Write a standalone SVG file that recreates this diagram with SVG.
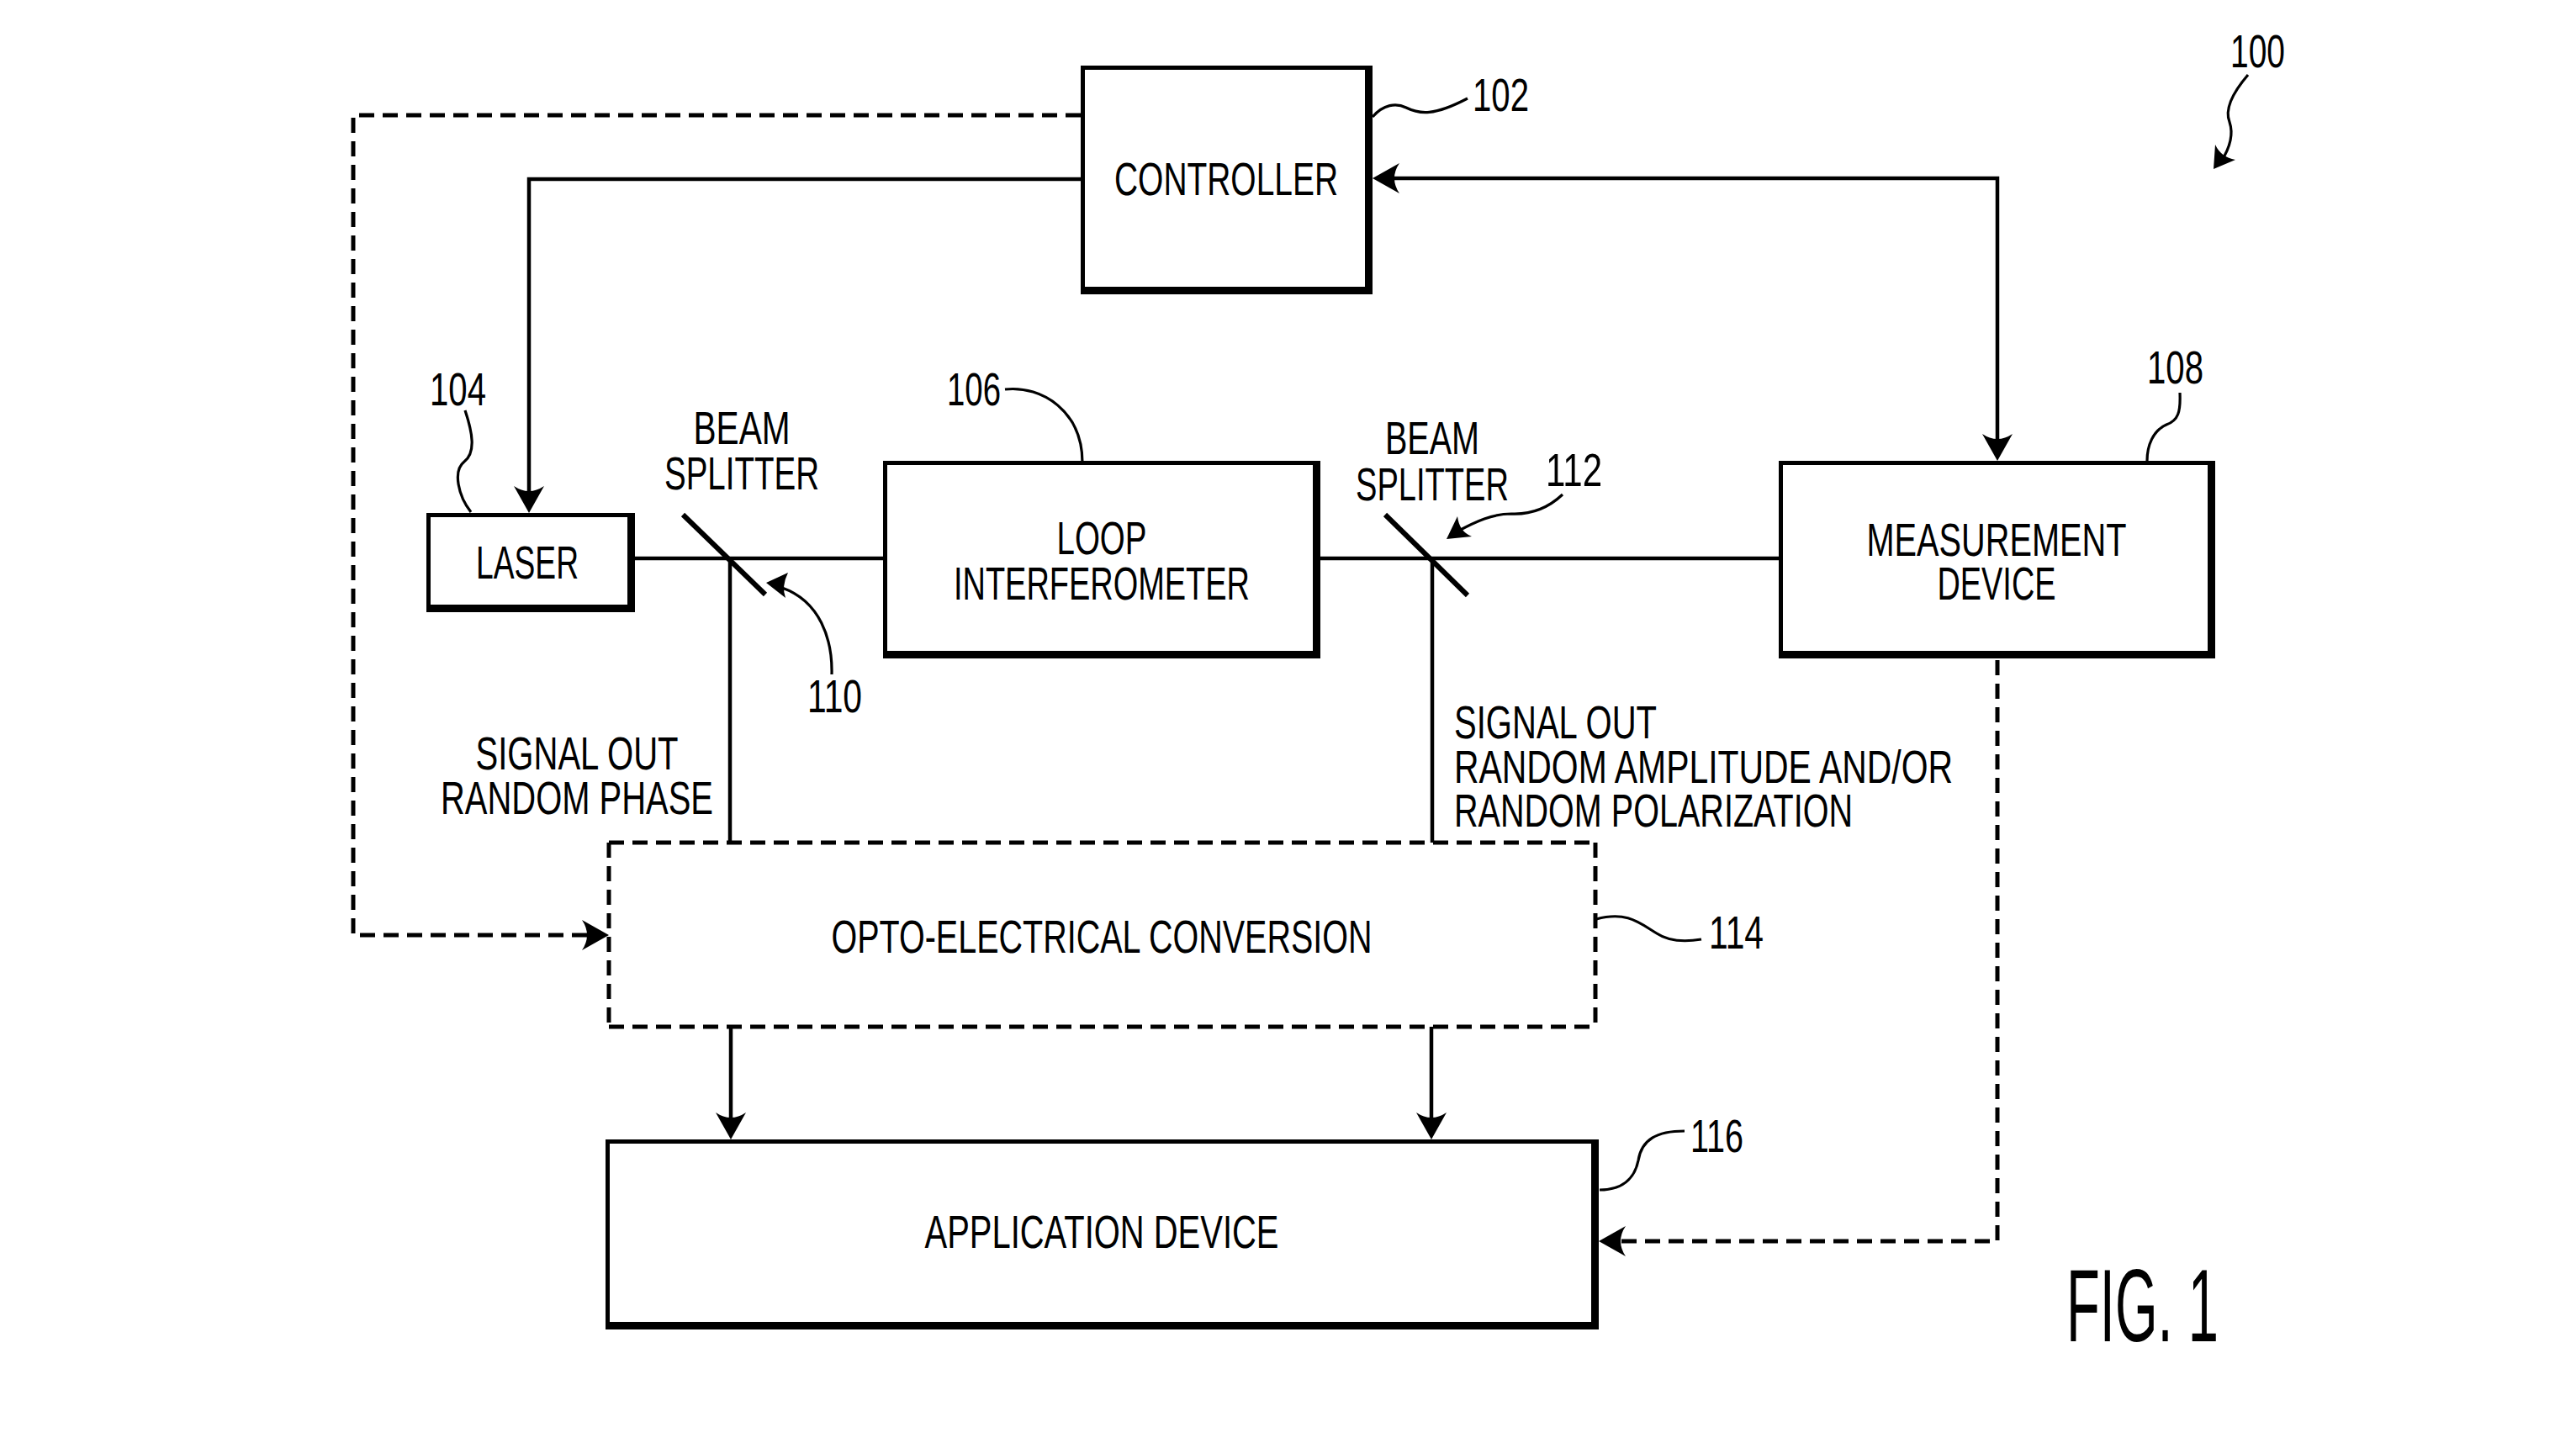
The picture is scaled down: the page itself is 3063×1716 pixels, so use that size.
<svg xmlns="http://www.w3.org/2000/svg" width="3063" height="1716" viewBox="0 0 3063 1716">
<style>
  text { font-family: "Liberation Sans Narrow", "Liberation Sans", Arial, sans-serif; font-size: 56px; fill: #000; }
  .c { text-anchor: middle; }
  .box { fill: #fff; stroke: #000; stroke-width: 5; }
  .shadow { fill: none; stroke: #000; stroke-width: 9; }
  .ln { fill: none; stroke: #000; stroke-width: 4.5; }
  .dash { fill: none; stroke: #000; stroke-width: 5; stroke-dasharray: 18 10; }
  .lead { fill: none; stroke: #000; stroke-width: 3.2; }
  .split { fill: none; stroke: #000; stroke-width: 6; }
  .head { fill: #000; stroke: none; }
</style>
<defs>
  <marker id="ah" markerUnits="userSpaceOnUse" markerWidth="44" markerHeight="44" viewBox="-30 -22 44 44" refX="0" refY="0" orient="auto-start-reverse">
    <path d="M10,0 L-22,-18 Q-10,0 -22,18 Z" fill="#000"/>
  </marker>
</defs>
<rect x="0" y="0" width="3063" height="1716" fill="#fff"/>

<g id="connectors">
  <path class="ln" d="M1285,213 H629 V600" marker-end="url(#ah)"/>
  <path class="ln" d="M1642,212 H2375 V538" marker-start="url(#ah)" marker-end="url(#ah)"/>
  <path class="dash" d="M1285,137 H420 V1112 H714" marker-end="url(#ah)"/>
  <path class="ln" d="M755,664 H1050"/>
  <path class="ln" d="M868,664 V1002"/>
  <path class="ln" d="M1570,664 H2115"/>
  <path class="ln" d="M1703,664 V1002"/>
  <path class="ln" d="M869,1221 V1345" marker-end="url(#ah)"/>
  <path class="ln" d="M1702,1221 V1345" marker-end="url(#ah)"/>
  <path class="dash" d="M2375,785 V1476 H1911" marker-end="url(#ah)"/>
</g>

<g id="splitter-110">
  <path class="split" d="M812,612 L910,707"/>
  <text class="c" x="882" y="528" textLength="115" lengthAdjust="spacingAndGlyphs">BEAM</text>
  <text class="c" x="882" y="582" textLength="184" lengthAdjust="spacingAndGlyphs">SPLITTER</text>
  <path class="lead" d="M989,802 C990,760 975,715 930,699"/>
  <path class="head" d="M911,693 L937,681 Q929,697 934,711 Z"/>
  <text x="960" y="847" textLength="65" lengthAdjust="spacingAndGlyphs">110</text>
</g>

<g id="splitter-112">
  <path class="split" d="M1647,612 L1745,708"/>
  <text class="c" x="1703" y="540" textLength="112" lengthAdjust="spacingAndGlyphs">BEAM</text>
  <text class="c" x="1703" y="595" textLength="182" lengthAdjust="spacingAndGlyphs">SPLITTER</text>
  <path class="lead" d="M1858,588 C1840,605 1820,612 1797,611 C1775,611 1755,620 1733,632"/>
  <path class="head" d="M1720,641 L1733,614 Q1735,632 1750,638 Z"/>
  <text x="1838" y="578" textLength="67" lengthAdjust="spacingAndGlyphs">112</text>
</g>

<g id="controller">
  <rect class="box" x="1287.5" y="80.5" width="342" height="267"/>
  <path class="shadow" d="M1627.5,78 V345.5 H1285"/>
  <text class="c" x="1458" y="232" textLength="266" lengthAdjust="spacingAndGlyphs">CONTROLLER</text>
  <path class="lead" d="M1632,139 C1645,124 1660,122 1672,128 C1688,136 1705,138 1745,117"/>
  <text x="1751" y="132" textLength="67" lengthAdjust="spacingAndGlyphs">102</text>
</g>

<g id="laser">
  <rect class="box" x="509.5" y="612.5" width="243" height="113"/>
  <path class="shadow" d="M750.5,610 V723.5 H507"/>
  <text class="c" x="627" y="688" textLength="122" lengthAdjust="spacingAndGlyphs">LASER</text>
  <path class="lead" d="M553,488 C562,515 566,538 552,549 C538,560 545,590 560,609"/>
  <text x="511" y="482" textLength="67" lengthAdjust="spacingAndGlyphs">104</text>
</g>

<g id="loop-interferometer">
  <rect class="box" x="1052.5" y="550.5" width="515" height="230"/>
  <path class="shadow" d="M1565.5,548 V778.5 H1050"/>
  <text class="c" x="1310" y="659" textLength="107" lengthAdjust="spacingAndGlyphs">LOOP</text>
  <text class="c" x="1310" y="713" textLength="352" lengthAdjust="spacingAndGlyphs">INTERFEROMETER</text>
  <path class="lead" d="M1195,463 C1240,458 1287,490 1287,550"/>
  <text x="1126" y="482" textLength="64" lengthAdjust="spacingAndGlyphs">106</text>
</g>

<g id="measurement-device">
  <rect class="box" x="2117.5" y="550.5" width="514" height="230"/>
  <path class="shadow" d="M2629.5,548 V778.5 H2115"/>
  <text class="c" x="2374" y="661" textLength="309" lengthAdjust="spacingAndGlyphs">MEASUREMENT</text>
  <text class="c" x="2374" y="713" textLength="141" lengthAdjust="spacingAndGlyphs">DEVICE</text>
  <path class="lead" d="M2592,467 C2593,490 2590,500 2576,505 C2560,512 2553,530 2553,548"/>
  <text x="2553" y="456" textLength="67" lengthAdjust="spacingAndGlyphs">108</text>
</g>

<g id="signal-labels">
  <text class="c" x="686" y="915" textLength="241" lengthAdjust="spacingAndGlyphs">SIGNAL OUT</text>
  <text class="c" x="686" y="968" textLength="324" lengthAdjust="spacingAndGlyphs">RANDOM PHASE</text>
  <text x="1729" y="878" textLength="241" lengthAdjust="spacingAndGlyphs">SIGNAL OUT</text>
  <text x="1729" y="931" textLength="593" lengthAdjust="spacingAndGlyphs">RANDOM AMPLITUDE AND/OR</text>
  <text x="1729" y="983" textLength="474" lengthAdjust="spacingAndGlyphs">RANDOM POLARIZATION</text>
</g>

<g id="opto-electrical-conversion">
  <path class="dash" d="M724,1002 H1897"/>
  <path class="dash" d="M724,1221 H1897"/>
  <path class="dash" d="M724,1002 V1221"/>
  <path class="dash" d="M1897,1002 V1221"/>
  <text class="c" x="1310" y="1133" textLength="643" lengthAdjust="spacingAndGlyphs">OPTO-ELECTRICAL CONVERSION</text>
  <path class="lead" d="M1898,1093 C1935,1083 1950,1098 1970,1110 C1985,1120 2005,1120 2023,1117"/>
  <text x="2032" y="1128" textLength="65" lengthAdjust="spacingAndGlyphs">114</text>
</g>

<g id="application-device">
  <rect class="box" x="722.5" y="1357.5" width="1176" height="221"/>
  <path class="shadow" d="M1896.5,1355 V1576.5 H720"/>
  <text class="c" x="1310" y="1484" textLength="421" lengthAdjust="spacingAndGlyphs">APPLICATION DEVICE</text>
  <path class="lead" d="M1902,1415 C1935,1415 1945,1395 1948,1380 C1952,1355 1970,1345 2003,1345"/>
  <text x="2010" y="1370" textLength="63" lengthAdjust="spacingAndGlyphs">116</text>
</g>

<g id="system-100">
  <text x="2652" y="80" textLength="65" lengthAdjust="spacingAndGlyphs">100</text>
  <path class="lead" d="M2673,89 C2655,110 2645,130 2651,145 C2656,160 2652,175 2641,192"/>
  <path class="head" d="M2632,201 L2634,172 Q2641,187 2658,190 Z"/>
</g>

<text x="2457" y="1595" style="font-size:123px" textLength="181" lengthAdjust="spacingAndGlyphs">FIG. 1</text>
</svg>
